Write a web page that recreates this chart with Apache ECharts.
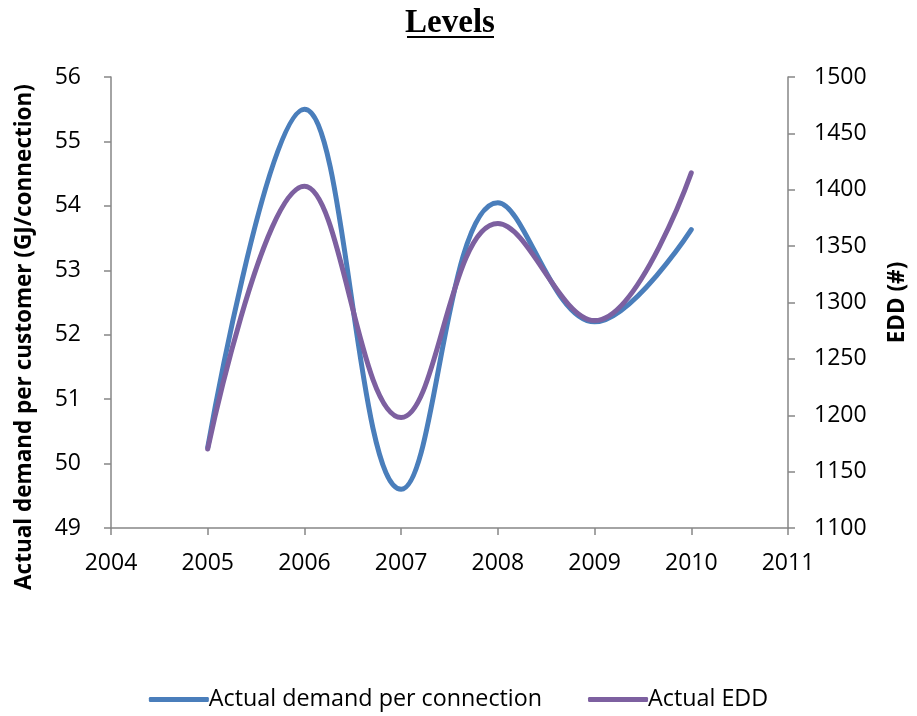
<!DOCTYPE html>
<html>
<head>
<meta charset="utf-8">
<script src="https://cdn.jsdelivr.net/npm/echarts@6/dist/echarts.min.js"></script>
<style>
  html, body { margin: 0; padding: 0; background: #fff; }
  #chart { width: 917px; height: 716px; }
</style>
</head>
<body>
<div id="chart"></div>
<script>
// Yearly levels: demand per connection (left axis) and EDD (right axis)
const years = [2005, 2006, 2007, 2008, 2009, 2010];
const demandPerConnection = [50.25, 55.5, 49.6, 54.05, 52.2, 53.63];
const actualEDD = [1170, 1403, 1198, 1370, 1284, 1415];

const leftTicks = { min: 49, max: 56, interval: 1 };
const rightTicks = { min: 1100, max: 1500, interval: 50 };
const xTicks = { min: 2004, max: 2011, interval: 1 };

const axisGrey = '#868686';
const labelFont = '"Open Sans", "Noto Sans", sans-serif';
const serifFont = '"Liberation Serif", "DejaVu Serif", serif';
const blue = '#4A7EBB';
const purple = '#7D60A0';

const pairs = (xs, ys) => xs.map((x, i) => [x, ys[i]]);
const plain = v => String(v);

const chart = echarts.init(document.getElementById('chart'), null, { renderer: 'canvas' });

const axisCommon = {
  axisLine: { show: true, lineStyle: { color: axisGrey, width: 1.5 } },
  axisTick: { show: true, length: 7, lineStyle: { color: axisGrey, width: 1.5 } },
  splitLine: { show: false },
  axisLabel: { color: '#000', fontSize: 23, fontFamily: labelFont, formatter: plain }
};

chart.setOption({
  animation: false,
  backgroundColor: '#fff',
  graphic: [
    {
      // underlined chart title
      type: 'group',
      children: [
        {
          type: 'text',
          x: 450, y: 40,
          style: {
            text: 'Levels',
            font: 'bold 33px ' + serifFont,
            fill: '#000',
            textAlign: 'center',
            textVerticalAlign: 'bottom'
          }
        },
        {
          type: 'rect',
          shape: { x: 407, y: 36, width: 87, height: 2 },
          style: { fill: '#000' }
        }
      ]
    },
    {
      type: 'text',
      x: 25, y: 337,
      rotation: Math.PI / 2,
      style: {
        text: 'Actual demand per customer (GJ/connection)',
        font: 'bold 22.5px ' + labelFont,
        fill: '#000',
        textAlign: 'center',
        textVerticalAlign: 'middle'
      }
    }
  ],
  grid: { left: 111, right: 126, top: 77, bottom: 188 },
  legend: {
    bottom: 0,
    left: 'center',
    icon: 'roundRect',
    itemWidth: 60,
    itemHeight: 5,
    itemGap: 46,
    textStyle: { fontSize: 23.3, fontFamily: labelFont, color: '#000', padding: [0, 0, 0, -5] },
    data: ['Actual demand per connection', 'Actual EDD']
  },
  xAxis: Object.assign({}, axisCommon, {
    type: 'value',
    min: xTicks.min, max: xTicks.max, interval: xTicks.interval,
    axisLabel: Object.assign({}, axisCommon.axisLabel, { margin: 24 })
  }),
  yAxis: [
    Object.assign({}, axisCommon, {
      type: 'value',
      position: 'left',
      min: leftTicks.min, max: leftTicks.max, interval: leftTicks.interval,
      axisLabel: Object.assign({}, axisCommon.axisLabel, { margin: 30 })
    }),
    Object.assign({}, axisCommon, {
      type: 'value',
      position: 'right',
      min: rightTicks.min, max: rightTicks.max, interval: rightTicks.interval,
      name: 'EDD (#)',
      nameLocation: 'middle',
      nameGap: 98,
      nameTextStyle: { fontSize: 22.5, fontWeight: 'bold', fontFamily: labelFont, color: '#000' },
      axisLabel: Object.assign({}, axisCommon.axisLabel, { margin: 26 })
    })
  ],
  series: [
    {
      name: 'Actual demand per connection',
      type: 'line',
      yAxisIndex: 0,
      smooth: 0.4,
      symbol: 'none',
      lineStyle: { color: blue, width: 5, cap: 'round' },
      itemStyle: { color: blue },
      data: pairs(years, demandPerConnection)
    },
    {
      name: 'Actual EDD',
      type: 'line',
      yAxisIndex: 1,
      smooth: 0.4,
      symbol: 'none',
      lineStyle: { color: purple, width: 5, cap: 'round' },
      itemStyle: { color: purple },
      data: pairs(years, actualEDD)
    }
  ]
});
</script>
</body>
</html>
